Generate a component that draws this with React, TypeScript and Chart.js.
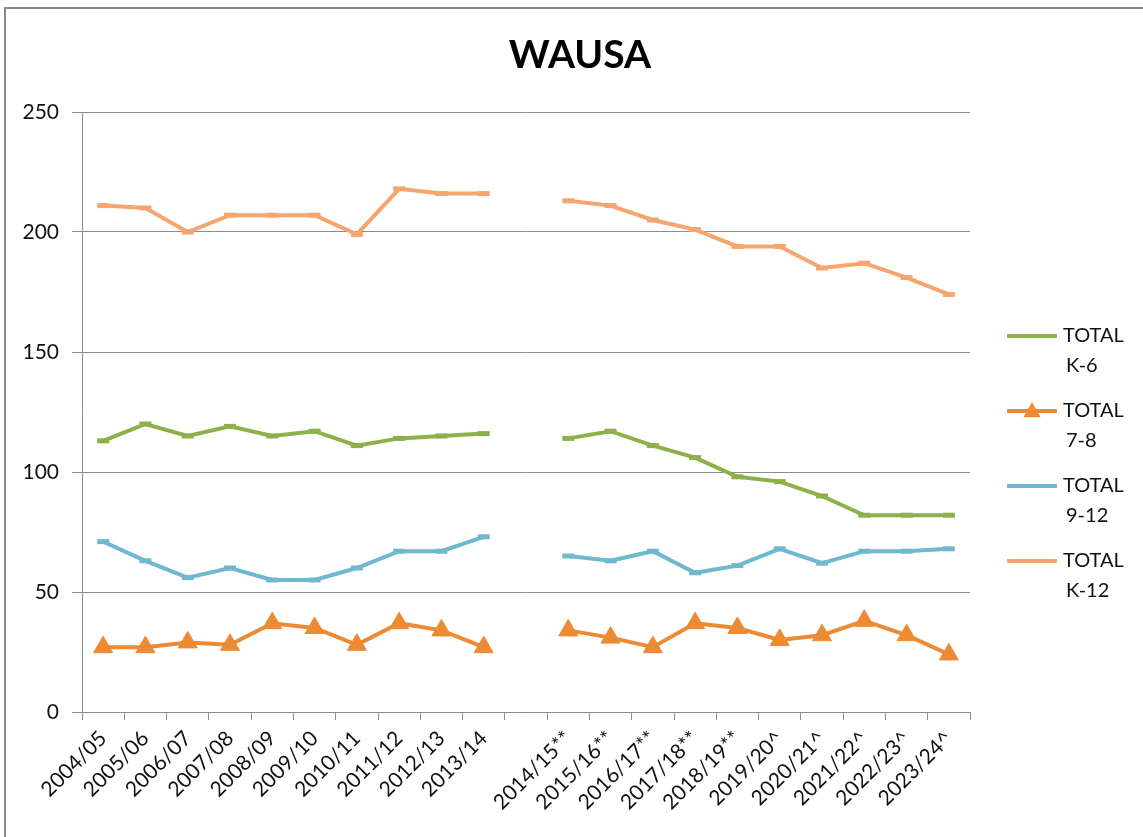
import React, { useEffect, useRef } from "react";
import { Chart, registerables } from "chart.js";

Chart.register(...registerables);

const categories = [
  "2004/05", "2005/06", "2006/07", "2007/08", "2008/09", "2009/10", "2010/11",
  "2011/12", "2012/13", "2013/14", "",
  "2014/15**", "2015/16**", "2016/17**", "2017/18**", "2018/19**",
  "2019/20^", "2020/21^", "2021/22^", "2022/23^", "2023/24^",
];

const totalK6 = [113, 120, 115, 119, 115, 117, 111, 114, 115, 116, null, 114, 117, 111, 106, 98, 96, 90, 82, 82, 82];
const total78 = [27, 27, 29, 28, 37, 35, 28, 37, 34, 27, null, 34, 31, 27, 37, 35, 30, 32, 38, 32, 24];
const total912 = [71, 63, 56, 60, 55, 55, 60, 67, 67, 73, null, 65, 63, 67, 58, 61, 68, 62, 67, 67, 68];
const totalK12 = [211, 210, 200, 207, 207, 207, 199, 218, 216, 216, null, 213, 211, 205, 201, 194, 194, 185, 187, 181, 174];

const seriesLabels = [["TOTAL", "K-6"], ["TOTAL", "7-8"], ["TOTAL", "9-12"], ["TOTAL", "K-12"]];
const seriesColors = ["#8DB04A", "#ED8B35", "#70B8D0", "#F6A56E"];
const yTicks = [0, 50, 100, 150, 200, 250];
const titleText = "WAUSA";

const FONT = "Lato, 'Open Sans', sans-serif";

const framePlugin = {
  id: "frame",
  beforeDraw(chart: any) {
    const ctx = chart.ctx;
    ctx.save();
    ctx.fillStyle = "#ffffff";
    ctx.fillRect(0, 0, chart.width, chart.height);
    ctx.strokeStyle = "#8a8a8a";
    ctx.lineWidth = 2;
    ctx.strokeRect(5, 8, chart.width + 10, chart.height + 10);
    ctx.fillStyle = "#000";
    ctx.font = `bold 39px ${FONT}`;
    ctx.textAlign = "center";
    ctx.textBaseline = "middle";
    ctx.fillText(titleText, 580, 55);
    ctx.restore();
  },
};

const legendPlugin = {
  id: "customLegend",
  afterDraw(chart: any) {
    const ctx = chart.ctx;
    ctx.save();
    const x0 = 1007;
    const x1 = 1057;
    const startY = 336;
    const step = 75;
    chart.data.datasets.forEach((ds: any, i: number) => {
      const y = startY + i * step;
      ctx.strokeStyle = ds.borderColor;
      ctx.lineWidth = 4;
      ctx.beginPath();
      ctx.moveTo(x0, y);
      ctx.lineTo(x1, y);
      ctx.stroke();
      if (ds.pointStyle === "triangle") {
        ctx.fillStyle = ds.borderColor;
        const r = 9;
        const cx = (x0 + x1) / 2;
        ctx.beginPath();
        ctx.moveTo(cx, y - r);
        ctx.lineTo(cx + r * 0.95, y + r * 0.7);
        ctx.lineTo(cx - r * 0.95, y + r * 0.7);
        ctx.closePath();
        ctx.fill();
      }
      ctx.fillStyle = "#111";
      ctx.font = `20px ${FONT}`;
      ctx.textAlign = "left";
      ctx.textBaseline = "middle";
      const lines: string[] = ds.label.split("\n");
      lines.forEach((ln, j) => {
        ctx.fillText(ln, j === 0 ? 1063 : 1066, y + j * 30);
      });
    });
    ctx.restore();
  },
};

export default function App() {
  const ref = useRef<HTMLCanvasElement | null>(null);

  useEffect(() => {
    if (!ref.current) return;
    const data = [totalK6, total78, total912, totalK12];
    const chart = new Chart(ref.current, {
      type: "line",
      data: {
        labels: categories,
        datasets: data.map((d, i) => ({
          label: seriesLabels[i].join("\n"),
          data: d,
          borderColor: seriesColors[i],
          backgroundColor: seriesColors[i],
          borderWidth: 4,
          tension: 0,
          spanGaps: false,
          pointStyle: i === 1 ? "triangle" : "line",
          pointRadius: i === 1 ? 11 : 6,
          pointBorderWidth: i === 1 ? 1 : 5,
          pointBackgroundColor: seriesColors[i],
          pointBorderColor: seriesColors[i],
          pointHoverRadius: i === 1 ? 11 : 6,
        })),
      },
      options: {
        responsive: false,
        animation: false,
        layout: { padding: { left: 10, right: 173, top: 112, bottom: 0 } },
        plugins: {
          legend: { display: false },
          tooltip: { enabled: false },
          title: { display: false },
        },
        scales: {
          x: {
            type: "category",
            offset: true,
            grid: {
              display: true,
              drawOnChartArea: false,
              drawTicks: true,
              tickLength: 8,
              offset: true,
              color: "#8c8c8c",
            },
            border: { display: true, color: "#8c8c8c", width: 1 },
            ticks: {
              autoSkip: false,
              maxRotation: 45,
              minRotation: 45,
              color: "#111",
              padding: 6,
              font: { family: FONT, size: 21 },
            },
            afterFit(scale: any) {
              scale.height = 125;
            },
          },
          y: {
            min: 0,
            max: 250,
            afterBuildTicks(scale: any) {
              scale.ticks = yTicks.map((v) => ({ value: v }));
            },
            grid: {
              color: "#8c8c8c",
              lineWidth: 1,
              drawTicks: true,
              tickLength: 10,
            },
            border: { display: true, color: "#8c8c8c", width: 1 },
            ticks: {
              color: "#111",
              padding: 13,
              font: { family: FONT, size: 21 },
            },
            afterFit(scale: any) {
              scale.width = 72;
            },
          },
        },
      },
      plugins: [framePlugin, legendPlugin],
    });
    return () => chart.destroy();
  }, []);

  return (
    <div style={{ position: "fixed", left: 0, top: 0, width: 1143, height: 837, background: "#fff" }}>
      <canvas ref={ref} width={1143} height={837} style={{ display: "block", width: 1143, height: 837 }} />
    </div>
  );
}
